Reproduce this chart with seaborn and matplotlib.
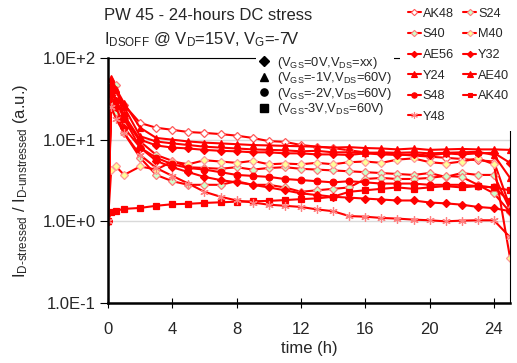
import numpy as np
import matplotlib
matplotlib.use("Agg")
import matplotlib.pyplot as plt
import seaborn as sns
from matplotlib.lines import Line2D
from matplotlib.ticker import FixedLocator, FuncFormatter, NullLocator

# Stress time (hours)
hours = [0, 0.2, 0.5, 1] + list(range(2, 26))

# Normalised leakage I_D(stressed) / I_D(unstressed) per device
ak48 = [1, 38, 32, 26.6, 16, 14, 13.2, 12.4, 12.1, 11.7, 11.2, 10.5, 9.6, 9.4,
        8.6, 8.2, 7.9, 7.4, 7.0, 6.8, 6.6, 6.4, 6.2, 6.0, 5.8, 5.6, 5.4, 1.5]
s24 = [1, 50, 46.8, 18.4, 9.5, 6.5, 5.5, 4.6, 4.5, 4.4, 4.6, 4.3, 4.5, 4.6,
       4.4, 4.3, 4.2, 4.1, 4.0, 3.9, 3.8, 3.7, 3.9, 3.5, 3.9, 3.7, 3.7, 1.4]
s40 = [1, 30, 22, 12, 6, 3.7, 3.1, 2.8, 2.8, 2.8, 3.1, 2.8, 2.8, 2.6,
       2.3, 2.4, 2.5, 2.6, 3.3, 3.4, 3.3, 3.3, 3.4, 3.6, 3.5, 2.8, 2.2, 1.3]
m40 = [1, 4.3, 4.7, 3.7, 4.7, 4.3, 5.4, 5.0, 5.6, 5.4, 5.2, 5.5, 5.0, 5.1,
       5.0, 5.2, 5.0, 5.3, 5.4, 5.2, 5.7, 5.9, 5.3, 5.1, 5.4, 5.9, 5.0, 0.36]
ae56 = [1, 45, 30, 20, 10, 8.5, 8.0, 7.8, 7.5, 7.3, 7.2, 7.0, 7.0, 6.8,
        6.8, 6.6, 6.6, 6.5, 6.8, 6.6, 6.5, 6.6, 6.4, 6.8, 6.6, 6.8, 6.9, 5.2]
y32 = [1, 35, 25, 14, 8, 5.5, 4.6, 4.0, 3.5, 3.2, 3.0, 2.8, 2.6, 2.4,
       2.2, 2.1, 2.0, 1.95, 1.9, 1.85, 1.8, 1.8, 1.7, 1.66, 1.6, 1.5, 1.45, 1.33]
y24 = [1, 55, 40, 25, 11, 9.5, 9.0, 8.6, 8.2, 8.0, 7.8, 7.6, 7.5, 7.4,
       7.2, 7.3, 7.0, 7.0, 6.8, 7.0, 6.9, 7.0, 6.8, 6.9, 7.0, 7.1, 6.5, 3.4]
ae40 = [1, 57, 42, 28, 14, 10.5, 10.0, 9.5, 9.2, 9.0, 8.8, 8.6, 8.5, 8.4,
        8.3, 8.2, 8.0, 8.1, 7.9, 7.8, 7.6, 7.8, 7.5, 7.6, 7.7, 7.6, 7.6, 7.5]
s48 = [1, 40, 30, 18, 8, 6.0, 5.0, 4.5, 4.3, 4.0, 3.7, 3.6, 3.5, 3.3,
       3.2, 3.1, 3.0, 3.1, 3.0, 2.9, 2.9, 2.9, 2.8, 2.8, 2.8, 2.7, 2.6, 1.75]
ak40 = [1, 1.3, 1.35, 1.42, 1.46, 1.55, 1.62, 1.64, 1.68, 1.71, 1.74, 1.76, 1.78, 1.82,
        1.87, 1.91, 2.0, 2.3, 2.4, 2.5, 2.6, 2.5, 2.6, 2.7, 2.6, 2.7, 2.6, 2.4]
y48 = [1, 25, 18, 12, 6.5, 4.5, 3.6, 2.9, 2.3, 2.0, 1.8, 1.7, 1.6, 1.55,
       1.5, 1.4, 1.33, 1.16, 1.14, 1.1, 1.08, 1.05, 1.03, 1.0, 1.02, 1.03, 1.03, 0.64]

device_names = ["AK48", "S24", "S40", "M40", "AE56", "Y32",
                "Y24", "AE40", "S48", "AK40", "Y48"]
device_values = [ak48, s24, s40, m40, ae56, y32, y24, ae40, s48, ak40, y48]

bias_labels = ["(V$_\\mathregular{GS}$=0V,V$_\\mathregular{DS}$=xx)",
               "(V$_\\mathregular{GS}$=-1V,V$_\\mathregular{DS}$=60V)",
               "(V$_\\mathregular{GS}$=-2V,V$_\\mathregular{DS}$=60V)",
               "(V$_\\mathregular{GS}$-3V,V$_\\mathregular{DS}$=60V)"]
bias_markers = ["D", "^", "o", "s"]

RED = "#FF0000"
PINK = "#FF5A5A"
# marker, face colour, edge colour, size
styles = {
    "AK48": ("D", "white", PINK, 4.0),
    "S24": ("D", "#CCFFCC", "#FF7A7A", 4.0),
    "S40": ("D", "#CCFFCC", "#FF7A7A", 4.0),
    "M40": ("D", "#FFFF99", "#FF9A9A", 4.0),
    "AE56": ("D", RED, RED, 4.0),
    "Y32": ("D", RED, RED, 4.0),
    "Y24": ("^", RED, RED, 4.8),
    "AE40": ("^", RED, RED, 4.8),
    "S48": ("o", RED, RED, 4.8),
    "AK40": ("s", RED, RED, 4.3),
    "Y48": ((6, 2, 0), RED, "#FF8080", 6),
}

sns.set_theme(style="white")
plt.rcParams["font.family"] = ["Liberation Sans", "DejaVu Sans"]
plt.rcParams["mathtext.fontset"] = "custom"
plt.rcParams["mathtext.rm"] = "Liberation Sans"
plt.rcParams["mathtext.it"] = "Liberation Sans:italic"
plt.rcParams["mathtext.bf"] = "Liberation Sans:bold"

fig = plt.figure(figsize=(5.17, 3.63), dpi=100)
ax = fig.add_axes([108 / 517, 60 / 363, 402 / 517, 245 / 363])

for name, vals in zip(device_names, device_values):
    mk, fc, ec, ms = styles[name]
    sns.lineplot(x=hours, y=vals, ax=ax, color=RED, linewidth=1.5,
                 marker=mk, markersize=ms, markerfacecolor=fc,
                 markeredgecolor=ec, markeredgewidth=0.9, label=name)
if ax.get_legend() is not None:
    ax.get_legend().remove()

ax.set_yscale("log")
ax.set_ylim(0.1, 100)
ax.set_xlim(0, 25)

ax.yaxis.set_major_locator(FixedLocator([0.1, 1, 10, 100]))
ax.yaxis.set_minor_locator(NullLocator())
ax.yaxis.set_major_formatter(
    FuncFormatter(lambda v, p: "1.0E{:+d}".format(int(round(np.log10(v))))))
ax.xaxis.set_major_locator(FixedLocator(list(range(0, 25, 4))))

ax.grid(axis="y", color="#D9D9D9", linewidth=1)
ax.grid(axis="x", visible=False)
ax.set_axisbelow(True)

for side in ["left", "bottom"]:
    ax.spines[side].set_linewidth(1.8)
    ax.spines[side].set_color("black")
for side in ["top", "right"]:
    ax.spines[side].set_linewidth(0.8)
    ax.spines[side].set_color("black")

ax.tick_params(axis="y", which="major", direction="out", length=6, width=0.8,
               color="black", labelsize=12, pad=3, left=True)
ax.tick_params(axis="x", which="major", direction="inout", length=7, width=0.8,
               color="black", labelsize=12, pad=10, bottom=True)

ax.set_xlabel("time (h)", fontsize=12, labelpad=3)
ax.set_ylabel("I$_\\mathregular{D\\text{-}stressed}$ / I$_\\mathregular{D\\text{-}unstressed}$ (a.u.)",
              fontsize=12)
ax.yaxis.set_label_coords(-0.195, 0.5)

fig.text(104 / 517, 1 - 15 / 363, "PW 45 - 24-hours DC stress",
         fontsize=12, ha="left", va="center")
fig.text(104 / 517, 1 - 40 / 363,
         "I$_\\mathregular{DSOFF}$ @ V$_\\mathregular{D}$=15V, V$_\\mathregular{G}$=-7V",
         fontsize=12, ha="left", va="center")

bias_handles = [Line2D([], [], ls="none", marker=m, color="black", markersize=5.2)
                for m in bias_markers]
fig.legend(bias_handles, bias_labels, loc="upper left",
           bbox_to_anchor=(256 / 517, 1 - 52 / 363), frameon=True,
           facecolor="white", edgecolor="none", framealpha=1, fancybox=False,
           fontsize=9.3, labelspacing=-0.04, handlelength=0.8,
           handletextpad=0.6, borderpad=0.2, borderaxespad=0)

order = ["AK48", "S40", "AE56", "Y24", "S48", "Y48",
         "S24", "M40", "Y32", "AE40", "AK40"]
dev_handles = []
for name in order:
    mk, fc, ec, ms = styles[name]
    dev_handles.append(Line2D([], [], color=RED, linewidth=1.5, marker=mk,
                              markersize=ms * 0.8, markerfacecolor=fc,
                              markeredgecolor=ec, markeredgewidth=0.8))
fig.legend(dev_handles, order, ncol=2, loc="upper right",
           bbox_to_anchor=(1.0, 1.0), frameon=True, facecolor="white",
           edgecolor="none", framealpha=1, fancybox=False, fontsize=9.2,
           labelspacing=0.67, handlelength=1.0, handletextpad=0.15,
           columnspacing=0.75, borderpad=0.62, borderaxespad=0)

fig.savefig("out.png", dpi=100)
